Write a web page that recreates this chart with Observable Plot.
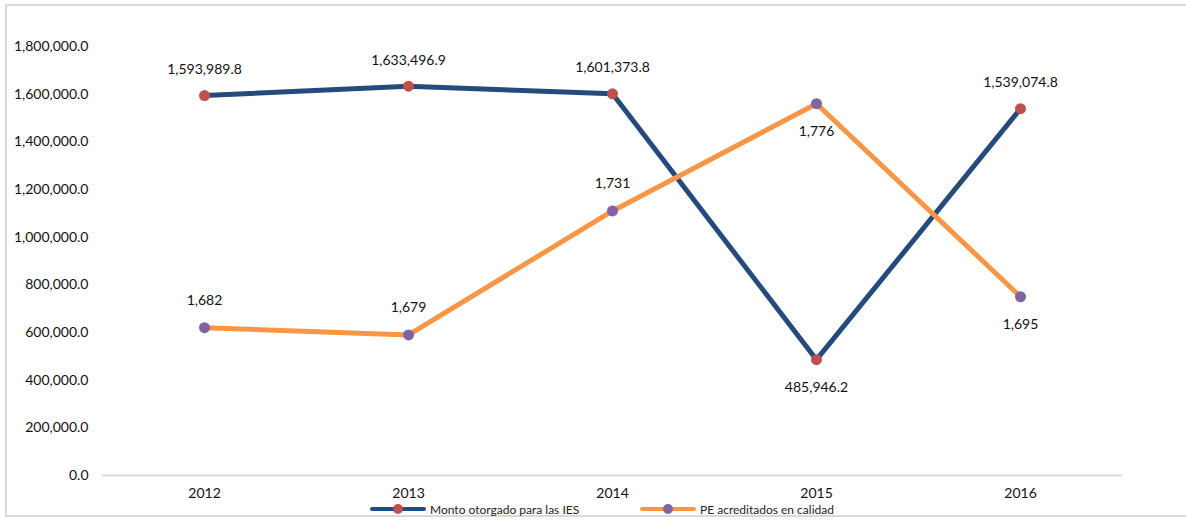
<!DOCTYPE html>
<html>
<head>
<meta charset="utf-8">
<script src="https://cdn.jsdelivr.net/npm/d3@7"></script>
<script src="https://cdn.jsdelivr.net/npm/@observablehq/plot@0.6"></script>
<style>
  html, body { margin: 0; padding: 0; background: #fff; overflow: hidden; }
  #frame { position: absolute; left: 5px; top: 4px; width: 1200px; height: 513px; border: 2px solid #d9d9d9; box-sizing: border-box; }
  #chart { position: absolute; left: 0; top: 0; }
  #legend { position: absolute; left: 0; top: 500px; width: 1186px; height: 18px; font-family: Lato, "Open Sans", sans-serif; font-size: 12px; color: #222; }
  .item { position: absolute; top: 0; height: 18px; display: flex; align-items: center; }
  .item svg { margin-right: 4px; }
</style>
</head>
<body>
<div id="frame"></div>
<div id="chart"></div>
<div id="legend"></div>
<script>
const years = ["2012", "2013", "2014", "2015", "2016"];
const monto = [1593989.8, 1633496.9, 1601373.8, 485946.2, 1539074.8];
const pe = [1682, 1679, 1731, 1776, 1695];
const montoLabelPos = ["above", "above", "above", "below", "above"];
const peLabelPos = ["above", "above", "above", "below", "below"];
const yTicks = [0, 200000, 400000, 600000, 800000, 1000000, 1200000, 1400000, 1600000, 1800000];
const seriesNames = ["Monto otorgado para las IES", "PE acreditados en calidad"];
// secondary axis (hidden) domain
const peAxis = [1620, 1800];

const primaryMax = 1800000;
const toPrimary = v => (v - peAxis[0]) / (peAxis[1] - peAxis[0]) * primaryMax;

const blue = "#254a7c", red = "#c0504d", orange = "#f79646", purple = "#8064a2";

const montoData = years.map((y, i) => ({year: y, value: monto[i], pos: montoLabelPos[i], label: d3.format(",.1f")(monto[i])}));
const peData = years.map((y, i) => ({year: y, value: toPrimary(pe[i]), pos: peLabelPos[i], label: d3.format(",")(pe[i])}));

const font = "Lato, 'Open Sans', sans-serif";

const chart = Plot.plot({
  width: 1186,
  height: 500,
  marginTop: 46,
  marginBottom: 25,
  marginLeft: 102,
  marginRight: 64,
  style: {fontFamily: font, fontSize: "14px", color: "#111", background: "transparent"},
  x: {type: "point", domain: years, padding: 0.5, label: null, tickSize: 0, tickPadding: 13},
  y: {domain: [0, primaryMax], ticks: yTicks, tickFormat: d3.format(",.1f"), label: null, tickSize: 0, tickPadding: 14},
  marks: [
    Plot.ruleY([0], {stroke: "#d9d9d9", strokeWidth: 2}),
    Plot.line(montoData, {x: "year", y: "value", stroke: blue, strokeWidth: 5, strokeLinejoin: "round", strokeLinecap: "round"}),
    Plot.line(peData, {x: "year", y: "value", stroke: orange, strokeWidth: 5, strokeLinejoin: "round", strokeLinecap: "round"}),
    Plot.dot(montoData, {x: "year", y: "value", r: 5.5, fill: red, stroke: null}),
    Plot.dot(peData, {x: "year", y: "value", r: 5.5, fill: purple, stroke: null}),
    Plot.text(montoData.filter(d => d.pos === "above"), {x: "year", y: "value", text: "label", dy: -26, fontSize: 14, fill: "#111"}),
    Plot.text(montoData.filter(d => d.pos === "below"), {x: "year", y: "value", text: "label", dy: 28, fontSize: 14, fill: "#111"}),
    Plot.text(peData.filter(d => d.pos === "above"), {x: "year", y: "value", text: "label", dy: -27, fontSize: 14, fill: "#111"}),
    Plot.text(peData.filter(d => d.pos === "below"), {x: "year", y: "value", text: "label", dy: 28, fontSize: 14, fill: "#111"})
  ]
});
document.getElementById("chart").appendChild(chart);

const legend = document.getElementById("legend");
const items = [
  {name: seriesNames[0], line: blue, dot: red, left: 370},
  {name: seriesNames[1], line: orange, dot: purple, left: 640}
];
for (const it of items) {
  const div = document.createElement("div");
  div.className = "item";
  div.style.left = it.left + "px";
  div.innerHTML = `<svg width="56" height="18"><line x1="2" y1="9" x2="54" y2="9" stroke="${it.line}" stroke-width="4" stroke-linecap="round"/><circle cx="28" cy="9" r="5" fill="${it.dot}"/></svg><span>${it.name}</span>`;
  legend.appendChild(div);
}
</script>
</body>
</html>
